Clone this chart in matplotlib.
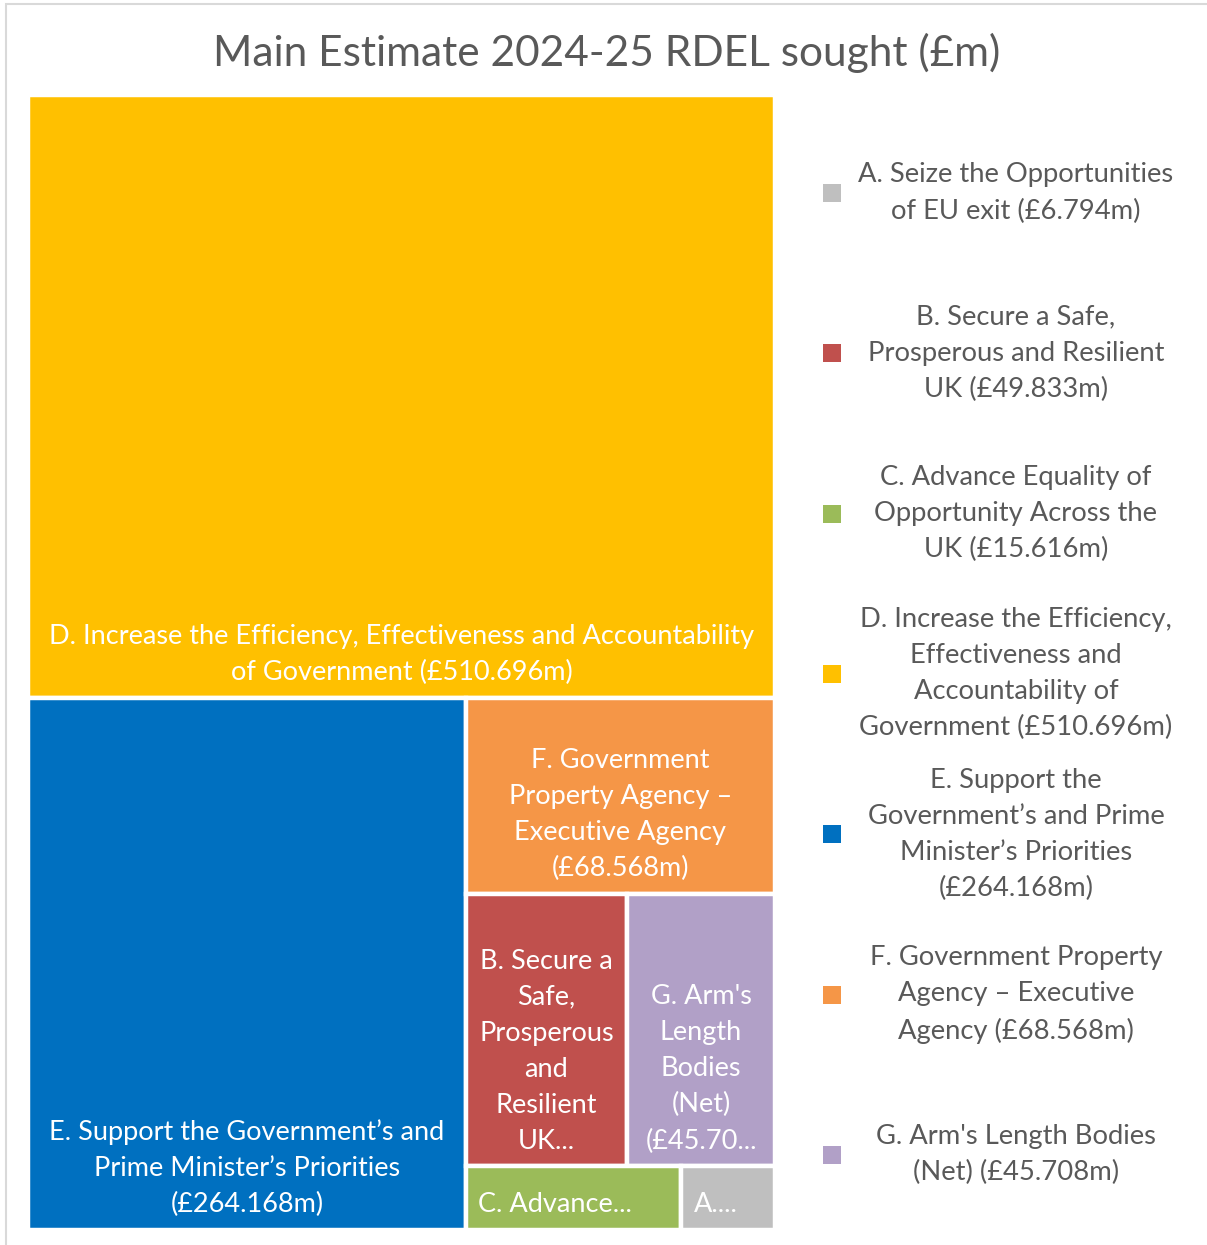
import matplotlib
matplotlib.use('Agg')
import matplotlib.pyplot as plt
from matplotlib.patches import Rectangle

plt.rcParams['font.family'] = ['Lato', 'DejaVu Sans']

# 数据
codes = ['A', 'B', 'C', 'D', 'E', 'F', 'G']
values = [6.794, 49.833, 15.616, 510.696, 264.168, 68.568, 45.708]
legend_labels = [
    "A. Seize the Opportunities\nof EU exit (£6.794m)",
    "B. Secure a Safe,\nProsperous and Resilient\nUK (£49.833m)",
    "C. Advance Equality of\nOpportunity Across the\nUK (£15.616m)",
    "D. Increase the Efficiency,\nEffectiveness and\nAccountability of\nGovernment (£510.696m)",
    "E. Support the\nGovernment’s and Prime\nMinister’s Priorities\n(£264.168m)",
    "F. Government Property\nAgency – Executive\nAgency (£68.568m)",
    "G. Arm's Length Bodies\n(Net) (£45.708m)",
]
box_labels = [
    "A....",
    "B. Secure a\nSafe,\nProsperous\nand\nResilient\nUK...",
    "C. Advance...",
    "D. Increase the Efficiency, Effectiveness and Accountability\nof Government (£510.696m)",
    "E. Support the Government’s and\nPrime Minister’s Priorities\n(£264.168m)",
    "F. Government\nProperty Agency –\nExecutive Agency\n(£68.568m)",
    "G. Arm's\nLength\nBodies\n(Net)\n(£45.70...",
]
colors = ['#BFBFBF', '#C0504D', '#9BBB59', '#FFC000', '#0070C0', '#F59647', '#B1A0C7']


def worst(row, side):
    s = sum(row)
    return max(max(side * side * r / (s * s), s * s / (side * side * r)) for r in row)


def squarify(sizes, x, y, w, h):
    rects = []
    sizes = list(sizes)
    while sizes:
        side = min(w, h)
        row = [sizes.pop(0)]
        while sizes and worst(row + [sizes[0]], side) <= worst(row, side):
            row.append(sizes.pop(0))
        s = sum(row)
        if w >= h:
            cw = s / h
            yy = y
            for r in row:
                rects.append((x, yy, cw, r / cw))
                yy += r / cw
            x += cw
            w -= cw
        else:
            rh = s / w
            xx = x
            for r in row:
                rects.append((xx, y, r / rh, rh))
                xx += r / rh
            y += rh
            h -= rh
    return rects


fig = plt.figure(figsize=(12.07, 12.45), dpi=100)
ax = fig.add_axes([28 / 1207, 15 / 1245, 747 / 1207, 1135 / 1245])
W, H = 747, 1135
ax.set_xlim(0, W)
ax.set_ylim(H, 0)
ax.axis('off')

# 按数值从大到小排
order = sorted(range(len(values)), key=lambda i: -values[i])
total = sum(values)
sizes = [values[i] / total * W * H for i in order]
rects = squarify(sizes, 0, 0, W, H)

for i, (x, y, w, h) in zip(order, rects):
    ax.add_patch(Rectangle((x, y), w, h, facecolor=colors[i], edgecolor='white', lw=3.2))
    if '\n' in box_labels[i] or len(box_labels[i]) > 20:
        ax.annotate(box_labels[i], (x + w / 2, y + h), xytext=(0, 9), textcoords='offset points',
                    ha='center', va='bottom', multialignment='center', color='white',
                    fontsize=19.5, linespacing=1.55)
    else:
        ax.annotate(box_labels[i], (x, y + h), xytext=(9, 9), textcoords='offset points',
                    ha='left', va='bottom', color='white', fontsize=19.5)

# 标题
fig.text(0.503, 1 - 53 / 1245, "Main Estimate 2024-25 RDEL sought (£m)", ha='center', va='center',
         fontsize=30.5, color='#595959')

# 图例
for k in range(len(codes)):
    yc = 1 - (193 + k * 160.3) / 1245
    fig.patches.append(Rectangle((823 / 1207, yc - 9 / 1245), 18 / 1207, 18 / 1245,
                                 transform=fig.transFigure, facecolor=colors[k], edgecolor='none'))
    fig.text(1016 / 1207, yc, legend_labels[k], ha='center', va='center', multialignment='center',
             fontsize=19.7, color='#595959', linespacing=1.55)

# 外框
fig.patches.append(Rectangle((6 / 1207, -0.01), 1.1, 1.01 - 4 / 1245, transform=fig.transFigure,
                             facecolor='none', edgecolor='#D9D9D9', lw=1.5))

plt.savefig('out.png', dpi=100)
